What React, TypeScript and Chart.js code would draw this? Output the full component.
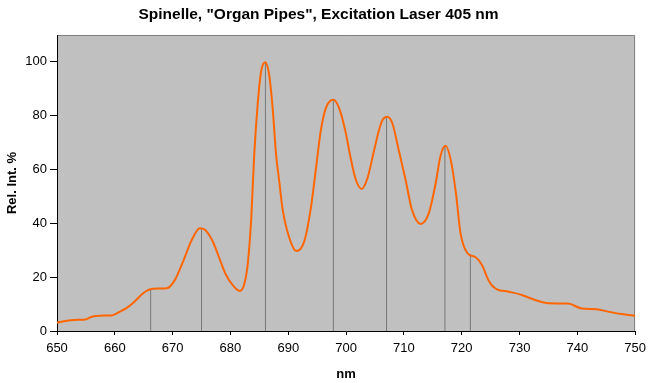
import React, { useEffect, useRef } from "react";
import { Chart, registerables } from "chart.js";

Chart.register(...registerables);

const wavelengths = [
  650, 651.7, 653, 654.9, 656, 657.5, 659.5, 660.9, 662, 663.2, 664.9, 666.1, 667.5, 669,
  670.4, 671.8, 673.3, 674.7, 675.6, 677, 678, 679.2, 680.3, 681.6, 682.4, 683, 683.6, 684.1,
  684.7, 685.3, 686, 686.7, 687.3, 687.9, 688.45, 689, 690.2, 691.4, 692.75, 693.9, 694.8,
  695.6, 696.5, 697.8, 698.8, 699.9, 700.8, 701.7, 702.7, 703.7, 704.8, 705.7, 706.3, 707.1,
  708, 709.1, 710.3, 711.4, 712.9, 714.3, 715.5, 716.3, 717.2, 718.1, 719, 719.8, 721,
  722.4, 723.5, 724.6, 725.2, 726.1, 728.1, 730.4, 732.7, 735, 738.4, 740.7, 743.3, 745.3,
  747.6, 750,
];
const intensities = [
  3.1, 3.8, 4.1, 4.3, 5.3, 5.7, 5.8, 7.2, 8.5, 10.5, 14, 15.5, 15.8, 15.9,
  19, 25.8, 33.8, 38.2, 37.6, 33, 27.5, 21, 17.3, 14.9, 17.5, 25, 42, 65,
  84, 96.4, 99.9, 95.2, 82.8, 65.4, 55.5, 45.6, 34.5, 29.7, 33.2, 45.6, 60.5,
  74.1, 82.8, 85.9, 82.8, 74.1, 64.2, 56.1, 52.8, 56.8, 66.7, 74.7, 78.4, 79.6,
  77.2, 67.3, 56.1, 45, 39.8, 43.7, 54.9, 64.8, 68.8, 63.6, 51.2, 36.3, 28.9,
  27.4, 24.5, 19, 17, 15.5, 14.6, 13.4, 11.5, 10.3, 10.2, 8.4, 8.1, 7.2,
  6.3, 5.6,
];

const peakNm = [666.2, 675, 686.05, 697.8, 707, 717.1, 721.5];
const peakVal = [15.5, 38, 100, 86, 79.5, 68.8, 28.5];

const xTicks = [650, 660, 670, 680, 690, 700, 710, 720, 730, 740, 750];
const yTicks = [0, 20, 40, 60, 80, 100];

const plotBg = {
  id: "plotBg",
  beforeDraw(chart: any) {
    const { ctx, chartArea } = chart;
    const { left, top, right, bottom } = chartArea;
    ctx.save();
    ctx.fillStyle = "#C0C0C0";
    ctx.fillRect(left, top, right - left, bottom - top);
    ctx.strokeStyle = "#808080";
    ctx.lineWidth = 1;
    ctx.beginPath();
    ctx.moveTo(left, Math.round(top) + 0.5);
    ctx.lineTo(Math.round(right) - 0.5, Math.round(top) + 0.5);
    ctx.lineTo(Math.round(right) - 0.5, bottom);
    ctx.stroke();
    ctx.restore();
  },
};

export default function App() {
  const ref = useRef<HTMLCanvasElement>(null);

  useEffect(() => {
    if (!ref.current) return;
    Chart.defaults.font.family = "'Liberation Sans', Arial, sans-serif";
    Chart.defaults.color = "#000";

    const curve = wavelengths.map((x, i) => ({ x, y: intensities[i] }));
    const drops: any[] = [];
    peakNm.forEach((x, i) => {
      drops.push({ x, y: 0 });
      drops.push({ x, y: peakVal[i] });
      drops.push({ x, y: null });
    });

    const chart = new Chart(ref.current, {
      type: "line",
      data: {
        datasets: [
          {
            data: curve,
            borderColor: "#FF6600",
            borderWidth: 2,
            pointRadius: 0,
            cubicInterpolationMode: "monotone",
            fill: false,
            order: 0,
          },
          {
            data: drops,
            borderColor: "#777777",
            borderWidth: 1,
            pointRadius: 0,
            tension: 0,
            spanGaps: false,
            fill: false,
            order: 1,
          },
        ],
      },
      options: {
        animation: false,
        responsive: false,
        devicePixelRatio: 1,
        layout: { padding: { left: 0, right: 15, top: 0, bottom: 0 } },
        plugins: {
          legend: { display: false },
          tooltip: { enabled: false },
          title: {
            display: true,
            text: 'Spinelle, "Organ Pipes", Excitation Laser 405 nm',
            font: { size: 15.5, weight: "bold" },
            color: "#000",
            padding: { top: 5, bottom: 11.4 },
          },
        },
        scales: {
          x: {
            type: "linear",
            min: 650,
            max: 750,
            afterBuildTicks: (s: any) => {
              s.ticks = xTicks.map((v) => ({ value: v }));
            },
            afterFit: (s: any) => {
              s.height = 52;
            },
            ticks: { font: { size: 13 }, color: "#000", padding: 6, maxRotation: 0 },
            grid: {
              drawOnChartArea: false,
              color: "#000",
              tickColor: "#000",
              tickLength: 4,
            },
            border: { color: "#000", width: 1 },
            title: {
              display: true,
              text: "nm",
              font: { size: 13, weight: "bold" },
              color: "#000",
              padding: { top: 0, bottom: 1 },
            },
          },
          y: {
            type: "linear",
            min: 0,
            max: 110,
            afterBuildTicks: (s: any) => {
              s.ticks = yTicks.map((v) => ({ value: v }));
            },
            afterFit: (s: any) => {
              s.width = 57;
            },
            ticks: { font: { size: 13 }, color: "#000", padding: 3 },
            grid: {
              drawOnChartArea: false,
              color: "#000",
              tickColor: "#000",
              tickLength: 7,
            },
            border: { color: "#000", width: 1 },
            title: {
              display: true,
              text: "Rel. Int. %",
              font: { size: 13, weight: "bold" },
              color: "#000",
              padding: { top: 5, bottom: 0 },
            },
          },
        },
      },
      plugins: [plotBg],
    } as any);

    return () => chart.destroy();
  }, []);

  return (
    <div style={{ position: "absolute", left: 0, top: 0, width: 652, height: 383, background: "#fff" }}>
      <canvas ref={ref} width={652} height={383} />
    </div>
  );
}
